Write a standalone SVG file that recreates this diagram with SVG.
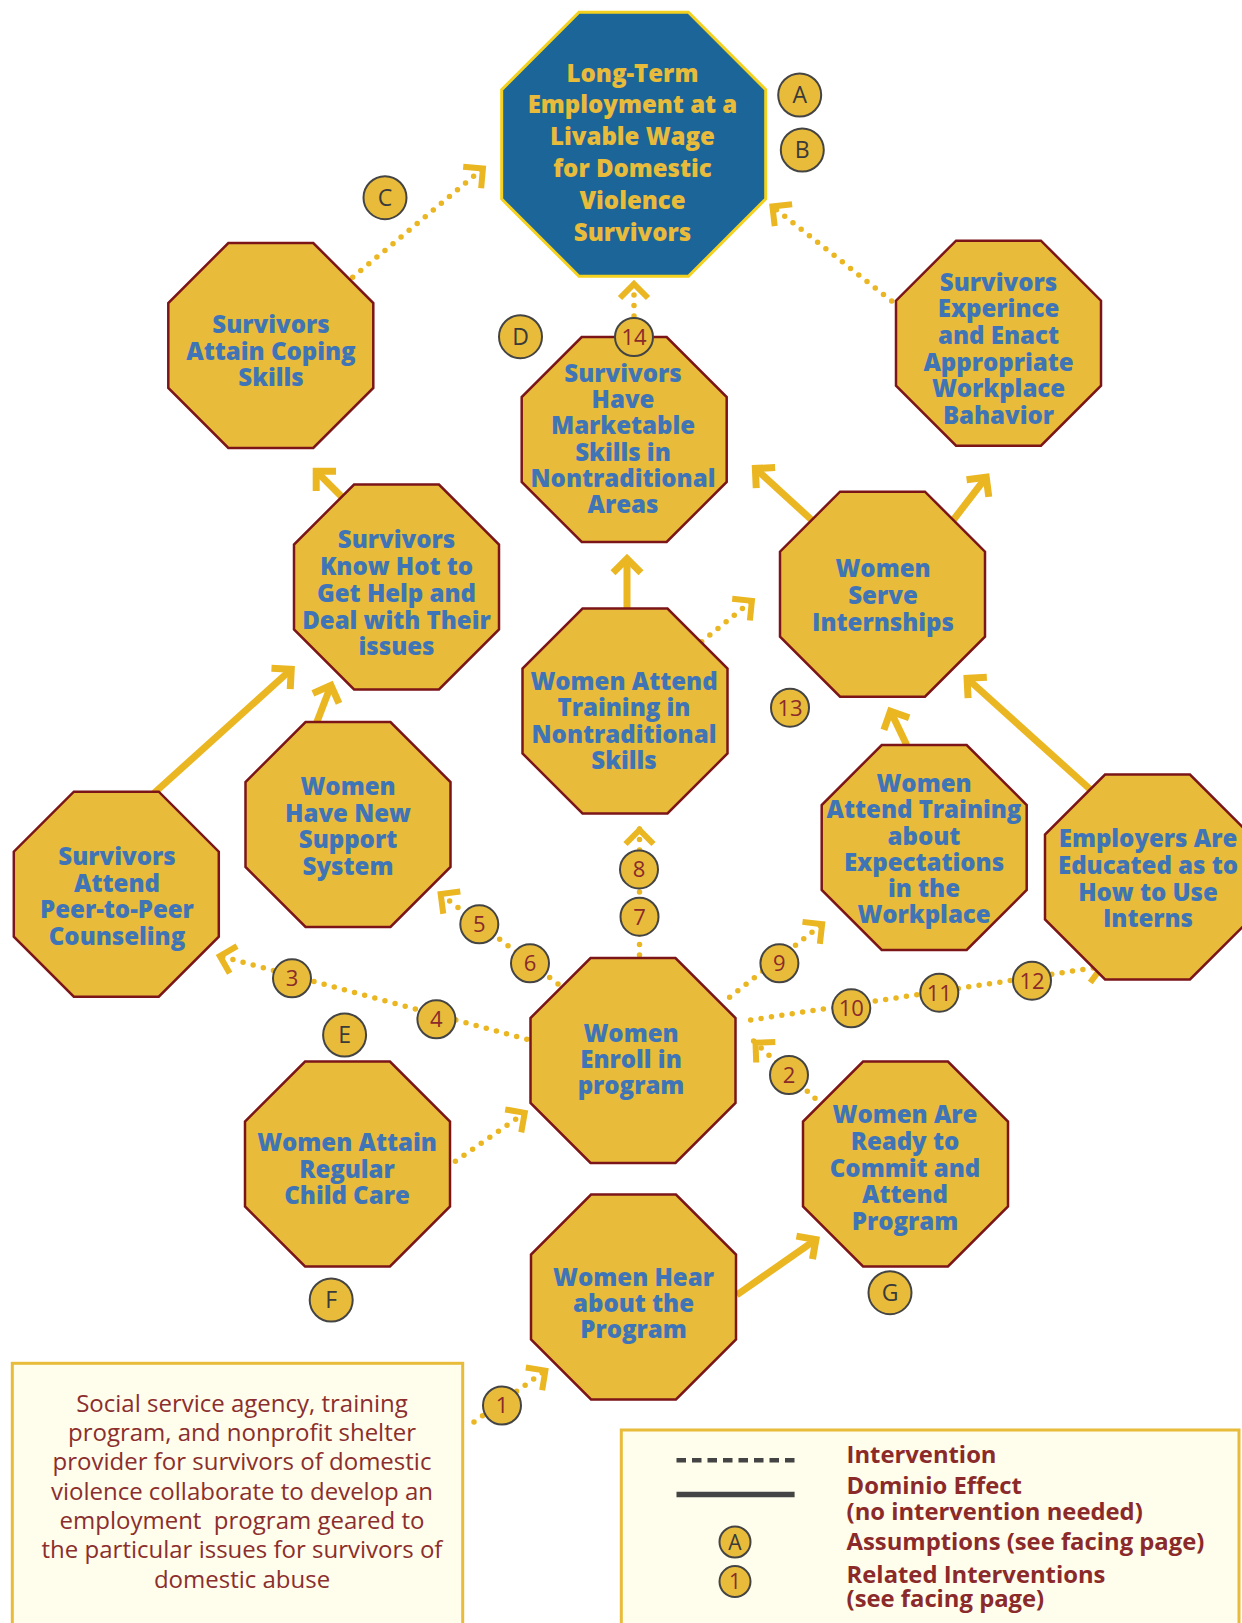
<svg xmlns="http://www.w3.org/2000/svg" xmlns:xlink="http://www.w3.org/1999/xlink" width="1242" height="1623" viewBox="0 0 1242 1623">
<style>
.oct{fill:#E8BC3A;stroke:#7B1518;stroke-width:2.5}
.octTop{fill:#1B6598;stroke:#F3D11E;stroke-width:3}
.nt{font-family:"Open Sans","DejaVu Sans",sans-serif;font-weight:800;font-size:24px;fill:#3F75B7;text-anchor:middle}
.ntTop{font-family:"Open Sans","DejaVu Sans",sans-serif;font-weight:800;font-size:24px;fill:#E8BC3A;text-anchor:middle}
.sol{fill:none;stroke:#EAB622;stroke-width:7;marker-end:url(#ahS)}
.dot{fill:none;stroke:#EAB622;stroke-width:5.5;stroke-linecap:round;stroke-dasharray:0 10.5;marker-end:url(#ahD)}
.bd{fill:#E8BC3A;stroke:#444;stroke-width:2}
.bl{font-family:"Open Sans","DejaVu Sans",sans-serif;font-size:23px;fill:#3a3a3a;text-anchor:middle}
.bn{font-family:"Open Sans","DejaVu Sans",sans-serif;font-size:22px;fill:#8B2A2A;text-anchor:middle}
.box{fill:#FFFDEB;stroke:#E8BC3A;stroke-width:3}
.bt{font-family:"Open Sans","DejaVu Sans",sans-serif;font-size:24px;fill:#8B2E2E;text-anchor:middle}
.lt{font-family:"Open Sans","DejaVu Sans",sans-serif;font-weight:700;font-size:23.8px;fill:#8B2A2A}
</style>
<defs>
<polygon id="oct" points="-42.46,-102.5 42.46,-102.5 102.5,-42.46 102.5,42.46 42.46,102.5 -42.46,102.5 -102.5,42.46 -102.5,-42.46"/>
<marker id="ahS" viewBox="-30 -20 40 40" refX="0" refY="0" markerWidth="40" markerHeight="40" markerUnits="userSpaceOnUse" orient="auto" overflow="visible">
<path d="M-13,-14 L1,0 L-13,14" fill="none" stroke="#EAB622" stroke-width="7"/>
</marker>
<marker id="ahD" viewBox="-30 -20 40 40" refX="0" refY="0" markerWidth="40" markerHeight="40" markerUnits="userSpaceOnUse" orient="auto" overflow="visible">
<path d="M-18,-14 L-4,0 L-18,14" fill="none" stroke="#EAB622" stroke-width="6"/>
</marker>
</defs>
<rect width="1242" height="1623" fill="#FFFFFF"/>

<g id="connectors">
<line class="sol" x1="341.7" y1="496.7" x2="316.9" y2="471.9"/>
<line class="sol" x1="152" y1="795" x2="290.5" y2="670"/>
<line class="sol" x1="315" y1="727" x2="330.6" y2="686.3"/>
<line class="sol" x1="627" y1="612" x2="627" y2="559.7"/>
<line class="sol" x1="815" y1="523" x2="756.1" y2="469.1"/>
<line class="sol" x1="953.3" y1="520" x2="985.6" y2="478"/>
<line class="sol" x1="906.7" y1="745" x2="890.9" y2="712.1"/>
<line class="sol" x1="1092" y1="791" x2="967.8" y2="679"/>
<line class="sol" x1="736.7" y1="1295" x2="815.1" y2="1240.1"/>

<line class="dot" x1="352.7" y1="277.3" x2="486" y2="166"/>
<line class="dot" x1="891.7" y1="301" x2="769.3" y2="204"/>
<line class="dot" x1="634" y1="337" x2="634" y2="280"/>
<line class="dot" x1="701.7" y1="641.7" x2="755" y2="598.3"/>
<line class="dot" x1="639.5" y1="955" x2="639.5" y2="826"/>
<line class="dot" x1="558" y1="984" x2="437.5" y2="891.7"/>
<line class="dot" x1="526.8" y1="1039.3" x2="216" y2="955"/>
<line class="dot" x1="729.6" y1="997.3" x2="825.3" y2="921.7"/>
<line class="dot" x1="750.7" y1="1020" x2="1106" y2="966"/>
<line class="dot" x1="815" y1="1098.3" x2="752.6" y2="1040"/>
<line class="dot" x1="455.4" y1="1161.3" x2="528" y2="1110.6"/>
<line class="dot" x1="474" y1="1422" x2="548.6" y2="1368.3"/>
</g>

<g id="n-goal">
<polygon class="octTop" transform="translate(633.7,144.3)" points="-54.68,-132 54.68,-132 132,-54.68 132,54.68 54.68,132 -54.68,132 -132,54.68 -132,-54.68"/>
<text class="ntTop"><tspan x="632.5" y="81.5">Long-Term</tspan><tspan x="632.5" y="113.3">Employment at a</tspan><tspan x="632.5" y="145.1">Livable Wage</tspan><tspan x="632.5" y="176.9">for Domestic</tspan><tspan x="632.5" y="208.7">Violence</tspan><tspan x="632.5" y="240.5">Survivors</tspan></text>
</g>

<g id="n-coping">
<use href="#oct" class="oct" x="270.8" y="345.5"/>
<text class="nt"><tspan x="271" y="333.3">Survivors</tspan><tspan x="271" y="359.7">Attain Coping</tspan><tspan x="271" y="385.7">Skills</tspan></text>
</g>

<g id="n-workplace">
<use href="#oct" class="oct" x="998.5" y="343.2"/>
<text class="nt"><tspan x="998.5" y="290.7">Survivors</tspan><tspan x="998.5" y="317.3">Experince</tspan><tspan x="998.5" y="344">and Enact</tspan><tspan x="998.5" y="370.7">Appropriate</tspan><tspan x="998.5" y="397.3">Workplace</tspan><tspan x="998.5" y="424">Bahavior</tspan></text>
</g>

<g id="n-marketable">
<use href="#oct" class="oct" x="624.2" y="439.5"/>
<text class="nt"><tspan x="623" y="381.7">Survivors</tspan><tspan x="623" y="408">Have</tspan><tspan x="623" y="434.3">Marketable</tspan><tspan x="623" y="460.6">Skills in</tspan><tspan x="623" y="486.9">Nontraditional</tspan><tspan x="623" y="513.2">Areas</tspan></text>
</g>

<g id="n-knowhow">
<use href="#oct" class="oct" x="396.5" y="587"/>
<text class="nt"><tspan x="396.5" y="548.3">Survivors</tspan><tspan x="396.5" y="575">Know Hot to</tspan><tspan x="396.5" y="602">Get Help and</tspan><tspan x="396.5" y="628.7">Deal with Their</tspan><tspan x="396.5" y="655">issues</tspan></text>
</g>

<g id="n-internships">
<use href="#oct" class="oct" x="882.5" y="594.2"/>
<text class="nt"><tspan x="883" y="576.7">Women</tspan><tspan x="883" y="603.7">Serve</tspan><tspan x="883" y="630.7">Internships</tspan></text>
</g>

<g id="n-trainnontrad">
<use href="#oct" class="oct" x="625" y="711"/>
<text class="nt"><tspan x="624" y="689.5">Women Attend</tspan><tspan x="624" y="716">Training in</tspan><tspan x="624" y="742.5">Nontraditional</tspan><tspan x="624" y="769">Skills</tspan></text>
</g>

<g id="n-peer">
<use href="#oct" class="oct" x="116.3" y="894.2"/>
<text class="nt"><tspan x="117" y="865">Survivors</tspan><tspan x="117" y="891.5">Attend</tspan><tspan x="117" y="918">Peer-to-Peer</tspan><tspan x="117" y="944.5">Counseling</tspan></text>
</g>

<g id="n-support">
<use href="#oct" class="oct" x="348" y="824.5"/>
<text class="nt"><tspan x="348" y="795">Women</tspan><tspan x="348" y="821.7">Have New</tspan><tspan x="348" y="848.3">Support</tspan><tspan x="348" y="875">System</tspan></text>
</g>

<g id="n-expectations">
<use href="#oct" class="oct" x="924.2" y="847.5"/>
<text class="nt"><tspan x="924" y="791.5">Women</tspan><tspan x="924" y="818">Attend Training</tspan><tspan x="924" y="844.5">about</tspan><tspan x="924" y="871">Expectations</tspan><tspan x="924" y="897">in the</tspan><tspan x="924" y="923.3">Workplace</tspan></text>
</g>

<g id="n-employers">
<use href="#oct" class="oct" x="1147.5" y="877"/>
<text class="nt"><tspan x="1148" y="847.3">Employers Are</tspan><tspan x="1148" y="874">Educated as to</tspan><tspan x="1148" y="900.7">How to Use</tspan><tspan x="1148" y="926.7">Interns</tspan></text>
</g>

<g id="n-enroll">
<use href="#oct" class="oct" x="633" y="1060.5"/>
<text class="nt"><tspan x="631" y="1041.5">Women</tspan><tspan x="631" y="1067.5">Enroll in</tspan><tspan x="631" y="1093.5">program</tspan></text>
</g>

<g id="n-childcare">
<use href="#oct" class="oct" x="347.5" y="1164"/>
<text class="nt"><tspan x="347" y="1151">Women Attain</tspan><tspan x="347" y="1177.7">Regular</tspan><tspan x="347" y="1204.4">Child Care</tspan></text>
</g>

<g id="n-ready">
<use href="#oct" class="oct" x="905.5" y="1164"/>
<text class="nt"><tspan x="905" y="1123.3">Women Are</tspan><tspan x="905" y="1150">Ready to</tspan><tspan x="905" y="1176.7">Commit and</tspan><tspan x="905" y="1203.3">Attend</tspan><tspan x="905" y="1230">Program</tspan></text>
</g>

<g id="n-hear">
<use href="#oct" class="oct" x="633.5" y="1297"/>
<text class="nt"><tspan x="633.5" y="1285.7">Women Hear</tspan><tspan x="633.5" y="1312">about the</tspan><tspan x="633.5" y="1338.3">Program</tspan></text>
</g>

<g id="badges">
<g id="b-A"><circle class="bd" cx="799.7" cy="95" r="21.5"/><text class="bl" x="799.7" y="103.2">A</text></g>
<g id="b-B"><circle class="bd" cx="802.3" cy="150" r="21.5"/><text class="bl" x="802.3" y="158.2">B</text></g>
<g id="b-C"><circle class="bd" cx="385" cy="197.7" r="21.5"/><text class="bl" x="385" y="205.9">C</text></g>
<g id="b-D"><circle class="bd" cx="520.5" cy="336.7" r="21.5"/><text class="bl" x="520.5" y="344.9">D</text></g>
<g id="b-E"><circle class="bd" cx="344.6" cy="1035" r="21.5"/><text class="bl" x="344.6" y="1043.2">E</text></g>
<g id="b-F"><circle class="bd" cx="331.2" cy="1300" r="21.5"/><text class="bl" x="331.2" y="1308.2">F</text></g>
<g id="b-G"><circle class="bd" cx="890" cy="1292.7" r="21.5"/><text class="bl" x="890" y="1300.9">G</text></g>
<g id="b-1"><circle class="bd" cx="502" cy="1405.5" r="19"/><text class="bn" x="502" y="1413.4">1</text></g>
<g id="b-2"><circle class="bd" cx="789" cy="1075" r="19"/><text class="bn" x="789" y="1082.9">2</text></g>
<g id="b-3"><circle class="bd" cx="292" cy="978.3" r="19"/><text class="bn" x="292" y="986.2">3</text></g>
<g id="b-4"><circle class="bd" cx="436.4" cy="1019.3" r="19"/><text class="bn" x="436.4" y="1027.2">4</text></g>
<g id="b-5"><circle class="bd" cx="479.3" cy="924.3" r="19"/><text class="bn" x="479.3" y="932.2">5</text></g>
<g id="b-6"><circle class="bd" cx="530" cy="963.3" r="19"/><text class="bn" x="530" y="971.2">6</text></g>
<g id="b-7"><circle class="bd" cx="639.5" cy="916.7" r="19"/><text class="bn" x="639.5" y="924.6">7</text></g>
<g id="b-8"><circle class="bd" cx="639" cy="869.4" r="19"/><text class="bn" x="639" y="877.3">8</text></g>
<g id="b-9"><circle class="bd" cx="779.4" cy="963.3" r="19"/><text class="bn" x="779.4" y="971.2">9</text></g>
<g id="b-10"><circle class="bd" cx="851.3" cy="1008.3" r="19"/><text class="bn" x="851.3" y="1016.2">10</text></g>
<g id="b-11"><circle class="bd" cx="939.3" cy="992.7" r="19"/><text class="bn" x="939.3" y="1000.6">11</text></g>
<g id="b-12"><circle class="bd" cx="1032" cy="980.7" r="19"/><text class="bn" x="1032" y="988.6">12</text></g>
<g id="b-13"><circle class="bd" cx="790" cy="707.7" r="19"/><text class="bn" x="790" y="715.6">13</text></g>
<g id="b-14"><circle class="bd" cx="634" cy="337" r="19"/><text class="bn" x="634" y="344.9">14</text></g>
</g>

<g id="context-box">
<rect class="box" x="12.3" y="1363.3" width="450.4" height="280"/>
<text class="bt" xml:space="preserve"><tspan x="242" y="1411.7">Social service agency, training</tspan><tspan x="242" y="1441">program, and nonprofit shelter</tspan><tspan x="242" y="1470.3">provider for survivors of domestic</tspan><tspan x="242" y="1499.6">violence collaborate to develop an</tspan><tspan x="242" y="1528.9">employment  program geared to</tspan><tspan x="242" y="1558.2">the particular issues for survivors of</tspan><tspan x="242" y="1587.5">domestic abuse</tspan></text>
</g>

<g id="legend">
<rect class="box" x="621.3" y="1430" width="617.7" height="220"/>
<line x1="676.5" y1="1460.2" x2="794.6" y2="1460.2" stroke="#444" stroke-width="4.5" stroke-dasharray="9.5 6"/>
<line x1="676.5" y1="1494.5" x2="794.6" y2="1494.5" stroke="#444" stroke-width="5.5"/>
<circle class="bd" cx="735" cy="1542" r="15.5"/><text class="bl" style="font-size:21px" x="735" y="1549.5">A</text>
<circle class="bd" cx="735" cy="1581.6" r="15.5"/><text class="bn" style="font-size:21px" x="735" y="1589.1">1</text>
<text class="lt" x="846.6" y="1462.7">Intervention</text>
<text class="lt" x="846.6" y="1494">Dominio Effect</text>
<text class="lt" x="846.6" y="1519.5">(no intervention needed)</text>
<text class="lt" x="846.6" y="1550">Assumptions (see facing page)</text>
<text class="lt" x="846.6" y="1582.8">Related Interventions</text>
<text class="lt" x="846.6" y="1606.5">(see facing page)</text>
</g>
</svg>
